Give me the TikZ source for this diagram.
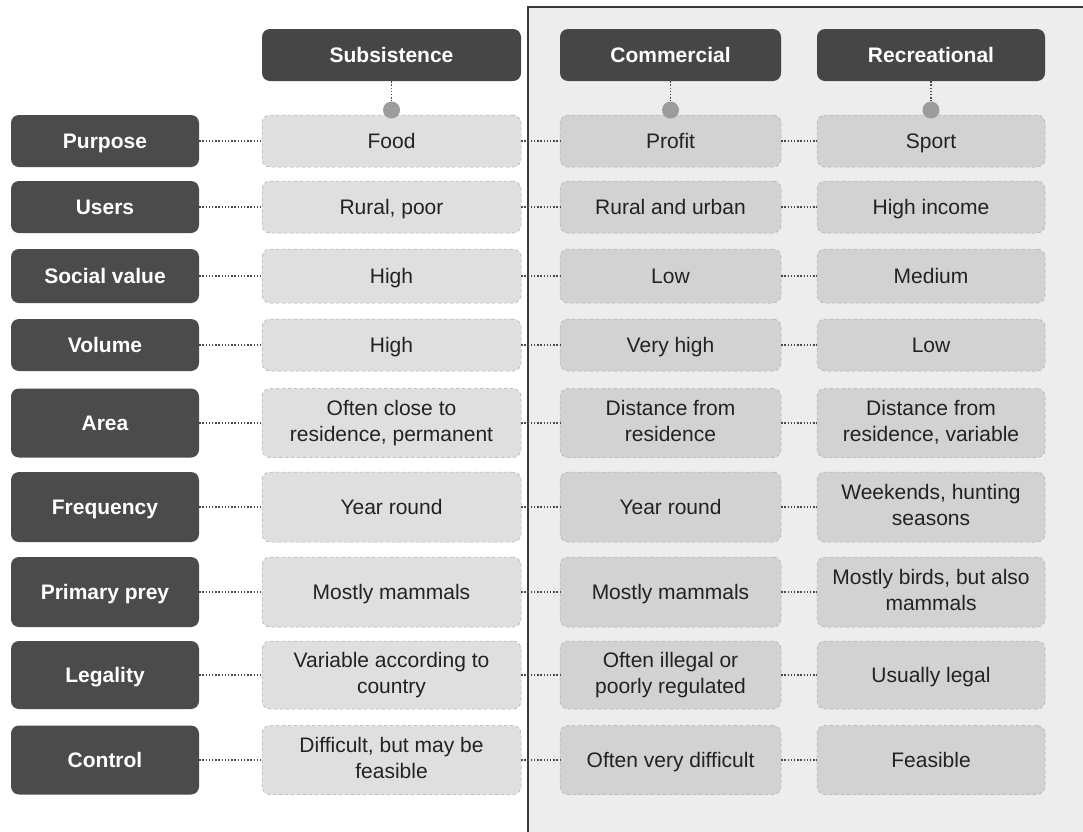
\documentclass[tikz,border=0pt]{standalone}
\usepackage{fontspec}
\setmainfont{Liberation Sans}
\definecolor{darkbox}{HTML}{4B4B4B}
\definecolor{headbox}{HTML}{464646}
\definecolor{lightA}{HTML}{DFDFDF}
\definecolor{lightB}{HTML}{D2D2D2}
\definecolor{panelfill}{HTML}{EDEDED}
\definecolor{panelline}{HTML}{3A3A3A}
\definecolor{dotfill}{HTML}{9C9C9C}
\definecolor{connline}{HTML}{4A4A4A}
\definecolor{boxedge}{HTML}{A8A8A8}
\definecolor{txt}{HTML}{222222}
\newcommand{\mystrut}{\rule[-5pt]{0pt}{25.2pt}}
\tikzset{
  lab/.style={rectangle, rounded corners=8pt, fill=darkbox, text=white, font=\fontsize{21}{26}\selectfont\bfseries, minimum width=188pt, inner sep=0pt, align=center, execute at begin node=\mystrut, execute at end node=\mystrut},
  head/.style={rectangle, rounded corners=8pt, fill=headbox, text=white, font=\fontsize{21}{26}\selectfont\bfseries, minimum height=52pt, inner sep=0pt, align=center, execute at begin node=\mystrut, execute at end node=\mystrut},
  valA/.style={rectangle, rounded corners=8pt, fill=lightA, draw=boxedge, line width=0.5pt, dash pattern=on 3pt off 3pt, text=txt, font=\fontsize{21}{26}\selectfont, minimum width=259pt, inner sep=0pt, align=center, execute at begin node=\mystrut, execute at end node=\mystrut},
  valB/.style={rectangle, rounded corners=8pt, fill=lightB, draw=boxedge, line width=0.5pt, dash pattern=on 3pt off 3pt, text=txt, font=\fontsize{21}{26}\selectfont, inner sep=0pt, align=center, execute at begin node=\mystrut, execute at end node=\mystrut},
  conn/.style={draw=connline, line width=1.7pt, dash pattern=on 1.4pt off 1.8pt},
  knob/.style={circle, fill=dotfill, minimum size=17pt, inner sep=0pt},
}
\newcommand{\myrow}[7]{%
  \node[lab, minimum height=#3] (#1L) at (105,#2) {#4};
  \node[valA, minimum height=#3] (#1A) at (391.5,#2) {#5};
  \node[valB, minimum width=221pt, minimum height=#3] (#1B) at (670.5,#2) {#6};
  \node[valB, minimum width=228pt, minimum height=#3] (#1C) at (931,#2) {#7};
  \draw[conn] (#1L) -- (#1A);
  \draw[conn] (#1A) -- (#1B);
  \draw[conn] (#1B) -- (#1C);
}
\begin{document}
\begin{tikzpicture}[x=1pt, y=-1pt]
\useasboundingbox (0,0) rectangle (1083,831);
\fill[white] (0,0) rectangle (1083,831);
\begin{scope}
\clip (0,0) rectangle (1083,831);
\draw[panelline, line width=2.6pt, fill=panelfill] (528,7) rectangle (1100,850);
\end{scope}
% headers
\node[head, minimum width=259pt] (hS) at (391.5,55) {Subsistence};
\node[head, minimum width=221pt] (hC) at (670.5,55) {Commercial};
\node[head, minimum width=228pt] (hR) at (931,55) {Recreational};
% rows
\myrow{p}{141}{52}{Purpose}{Food}{Profit}{Sport}
\myrow{u}{207}{52}{Users}{Rural, poor}{Rural and urban}{High income}
\myrow{s}{276}{54}{Social value}{High}{Low}{Medium}
\myrow{v}{345}{52}{Volume}{High}{Very high}{Low}
\myrow{a}{423}{69}{Area}{Often close to\\residence, permanent}{Distance from\\residence}{Distance from\\residence, variable}
\myrow{f}{507}{70}{Frequency}{Year round}{Year round}{Weekends, hunting\\seasons}
\myrow{r}{592}{70}{Primary prey}{Mostly mammals}{Mostly mammals}{Mostly birds, but also\\mammals}
\myrow{g}{675}{68}{Legality}{Variable according to\\country}{Often illegal or\\poorly regulated}{Usually legal}
\myrow{c}{760}{69}{Control}{Difficult, but may be\\feasible}{Often very difficult}{Feasible}
% knobs
\node[knob] (kS) at (391.5,110) {};
\node[knob] (kC) at (670.5,110) {};
\node[knob] (kR) at (931,110) {};
\draw[conn] (hS.south) -- (kS.north);
\draw[conn] (hC.south) -- (kC.north);
\draw[conn] (hR.south) -- (kR.north);
\end{tikzpicture}
\end{document}
